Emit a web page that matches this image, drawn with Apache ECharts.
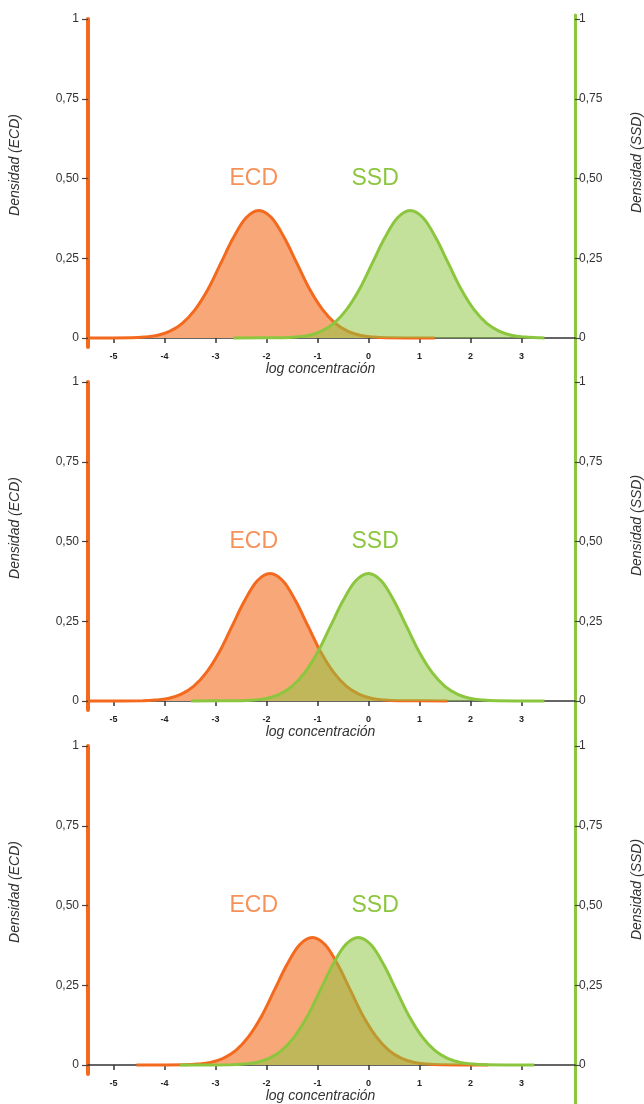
<!DOCTYPE html>
<html>
<head>
<meta charset="utf-8">
<script src="https://cdn.jsdelivr.net/npm/echarts@6/dist/echarts.min.js"></script>
<style>
  html, body { margin: 0; padding: 0; background: #fff; }
  #main { width: 644px; height: 1104px; }
</style>
</head>
<body>
<div id="main"></div>
<script>
// density curves, [log concentración, densidad]
var ecdTop = [[-5.5, 0], [-4.65, 0.001], [-4.4, 0.003], [-4.15, 0.008], [-3.9, 0.021], [-3.65, 0.046], [-3.4, 0.089], [-3.15, 0.152], [-2.9, 0.233], [-2.65, 0.314], [-2.4, 0.377], [-2.15, 0.400], [-1.9, 0.377], [-1.65, 0.314], [-1.4, 0.233], [-1.15, 0.152], [-0.9, 0.089], [-0.65, 0.046], [-0.4, 0.021], [-0.15, 0.008], [0.1, 0.003], [0.35, 0.001], [1.3, 0]];
var ssdTop = [[-2.65, 0], [-1.68, 0.001], [-1.43, 0.003], [-1.18, 0.008], [-0.93, 0.021], [-0.68, 0.046], [-0.43, 0.089], [-0.18, 0.152], [0.07, 0.233], [0.32, 0.314], [0.57, 0.377], [0.82, 0.400], [1.07, 0.377], [1.32, 0.314], [1.57, 0.233], [1.82, 0.152], [2.07, 0.089], [2.32, 0.046], [2.57, 0.021], [2.82, 0.008], [3.07, 0.003], [3.32, 0.001], [3.45, 0]];

var ecdMid = [[-5.5, 0], [-4.43, 0.001], [-4.18, 0.003], [-3.93, 0.008], [-3.68, 0.021], [-3.43, 0.046], [-3.18, 0.089], [-2.93, 0.152], [-2.68, 0.233], [-2.43, 0.314], [-2.18, 0.377], [-1.93, 0.400], [-1.68, 0.377], [-1.43, 0.314], [-1.18, 0.233], [-0.93, 0.152], [-0.68, 0.089], [-0.43, 0.046], [-0.18, 0.021], [0.07, 0.008], [0.32, 0.003], [0.57, 0.001], [1.55, 0]];
var ssdMid = [[-3.48, 0], [-2.5, 0.001], [-2.25, 0.003], [-2.0, 0.008], [-1.75, 0.021], [-1.5, 0.046], [-1.25, 0.089], [-1.0, 0.152], [-0.75, 0.233], [-0.5, 0.314], [-0.25, 0.377], [0, 0.400], [0.25, 0.377], [0.5, 0.314], [0.75, 0.233], [1.0, 0.152], [1.25, 0.089], [1.5, 0.046], [1.75, 0.021], [2.0, 0.008], [2.25, 0.003], [2.5, 0.001], [3.45, 0]];

var ecdLow = [[-4.55, 0], [-3.6, 0.001], [-3.35, 0.003], [-3.1, 0.008], [-2.85, 0.021], [-2.6, 0.046], [-2.35, 0.089], [-2.1, 0.152], [-1.85, 0.233], [-1.6, 0.314], [-1.35, 0.377], [-1.1, 0.400], [-0.85, 0.377], [-0.6, 0.314], [-0.35, 0.233], [-0.1, 0.152], [0.15, 0.089], [0.4, 0.046], [0.65, 0.021], [0.9, 0.008], [1.15, 0.003], [1.4, 0.001], [2.35, 0]];
var ssdLow = [[-3.7, 0], [-2.7, 0.001], [-2.45, 0.003], [-2.2, 0.008], [-1.95, 0.021], [-1.7, 0.046], [-1.45, 0.089], [-1.2, 0.152], [-0.95, 0.233], [-0.7, 0.314], [-0.45, 0.377], [-0.2, 0.400], [0.05, 0.377], [0.3, 0.314], [0.55, 0.233], [0.8, 0.152], [1.05, 0.089], [1.3, 0.046], [1.55, 0.021], [1.8, 0.008], [2.05, 0.003], [2.3, 0.001], [3.25, 0]];

var xTicks = [-5, -4, -3, -2, -1, 0, 1, 2, 3];
var yTicks = [0, 0.25, 0.5, 0.75, 1];
var ecdLabelAt = [-2.25, 0.5];
var ssdLabelAt = [0.13, 0.5];

var panels = [
  { ecd: ecdTop, ssd: ssdTop, top: 19 },
  { ecd: ecdMid, ssd: ssdMid, top: 382 },
  { ecd: ecdLow, ssd: ssdLow, top: 746 }
];

var orange = '#f36a1f';
var orangeFill = '#f8a878';
var green = '#8cc63f';
var greenFill = 'rgba(140,198,63,0.52)';
var font = 'Arial, "Liberation Sans", sans-serif';
var plotH = 319;

function densLabel(v) {
  if (v === 0) return '0';
  if (v === 1) return '1';
  return v.toFixed(2).replace('.', ',');
}

var grid = [], xAxis = [], yAxis = [], series = [];

panels.forEach(function (p, i) {
  // main plot + orange left axis (reaches a bit under 0)
  grid.push({ left: 88, right: 69, top: p.top, height: plotH * 1.028, outerBoundsMode: 'none' });
  // tall grid only used for the green right axis
  grid.push({ left: 88, right: 69, top: p.top - 4, height: plotH + 44, outerBoundsMode: 'none' });

  xAxis.push({
    type: 'value', gridIndex: 2 * i, min: -5.5, max: 4.05,
    name: 'log concentración', nameLocation: 'middle', nameGap: 14,
    nameTextStyle: { fontFamily: font, fontStyle: 'italic', fontSize: 14, color: '#333', padding: [0, 22, 0, 0] },
    axisLine: { onZero: true, lineStyle: { color: '#333', width: 1.5 } },
    axisTick: { customValues: xTicks, length: 5, lineStyle: { color: '#333', width: 1.5 } },
    axisLabel: { customValues: xTicks, fontFamily: font, fontSize: 9, fontWeight: 'bold', color: '#222', margin: 5 },
    splitLine: { show: false }
  });
  xAxis.push({ type: 'value', gridIndex: 2 * i + 1, min: 0, max: 1, show: false });

  yAxis.push({
    type: 'value', gridIndex: 2 * i, min: -0.028, max: 1,
    name: 'Densidad (ECD)', nameLocation: 'middle', nameGap: 66, nameRotate: 90,
    nameTextStyle: { fontFamily: font, fontStyle: 'italic', fontSize: 14, color: '#333', padding: [0, 0, 0, 36] },
    axisLine: { show: true, onZero: false, lineStyle: { color: orange, width: 4 } },
    axisTick: { show: true, customValues: yTicks, length: 6, lineStyle: { color: '#444', width: 1.2 } },
    axisLabel: { customValues: yTicks, formatter: densLabel, fontFamily: font, fontSize: 12, color: '#333', margin: 9 },
    splitLine: { show: false }
  });
  yAxis.push({
    type: 'value', gridIndex: 2 * i + 1, position: 'right', min: -40 / plotH, max: 1 + 4 / plotH,
    name: 'Densidad (SSD)', nameLocation: 'middle', nameGap: 55, nameRotate: 90,
    nameTextStyle: { fontFamily: font, fontStyle: 'italic', fontSize: 14, color: '#333', padding: [0, 0, 0, 68] },
    axisLine: { show: true, onZero: false, lineStyle: { color: green, width: 3 } },
    axisTick: { show: true, customValues: yTicks, length: 5, lineStyle: { color: '#444', width: 1.2 } },
    axisLabel: { customValues: yTicks, formatter: densLabel, fontFamily: font, fontSize: 12, color: '#333', margin: 4 },
    splitLine: { show: false }
  });

  series.push({
    type: 'line', xAxisIndex: 2 * i, yAxisIndex: 2 * i, data: p.ecd,
    smooth: 0.35, symbol: 'none', z: 2,
    lineStyle: { color: orange, width: 3 },
    areaStyle: { color: orangeFill, opacity: 1 },
    markPoint: {
      symbol: 'circle', symbolSize: 1, itemStyle: { color: 'transparent' },
      label: { show: true, position: 'inside', formatter: 'ECD', fontFamily: font, fontSize: 23, color: '#f5925a' },
      data: [{ coord: ecdLabelAt }]
    }
  });
  series.push({
    type: 'line', xAxisIndex: 2 * i, yAxisIndex: 2 * i, data: p.ssd,
    smooth: 0.35, symbol: 'none', z: 3,
    lineStyle: { color: green, width: 3 },
    areaStyle: { color: greenFill, opacity: 1 },
    markPoint: {
      symbol: 'circle', symbolSize: 1, itemStyle: { color: 'transparent' },
      label: { show: true, position: 'inside', formatter: 'SSD', fontFamily: font, fontSize: 23, color: green },
      data: [{ coord: ssdLabelAt }]
    }
  });
});

var chart = echarts.init(document.getElementById('main'));
chart.setOption({
  backgroundColor: '#fff',
  animation: false,
  grid: grid,
  xAxis: xAxis,
  yAxis: yAxis,
  series: series
});
</script>
</body>
</html>
